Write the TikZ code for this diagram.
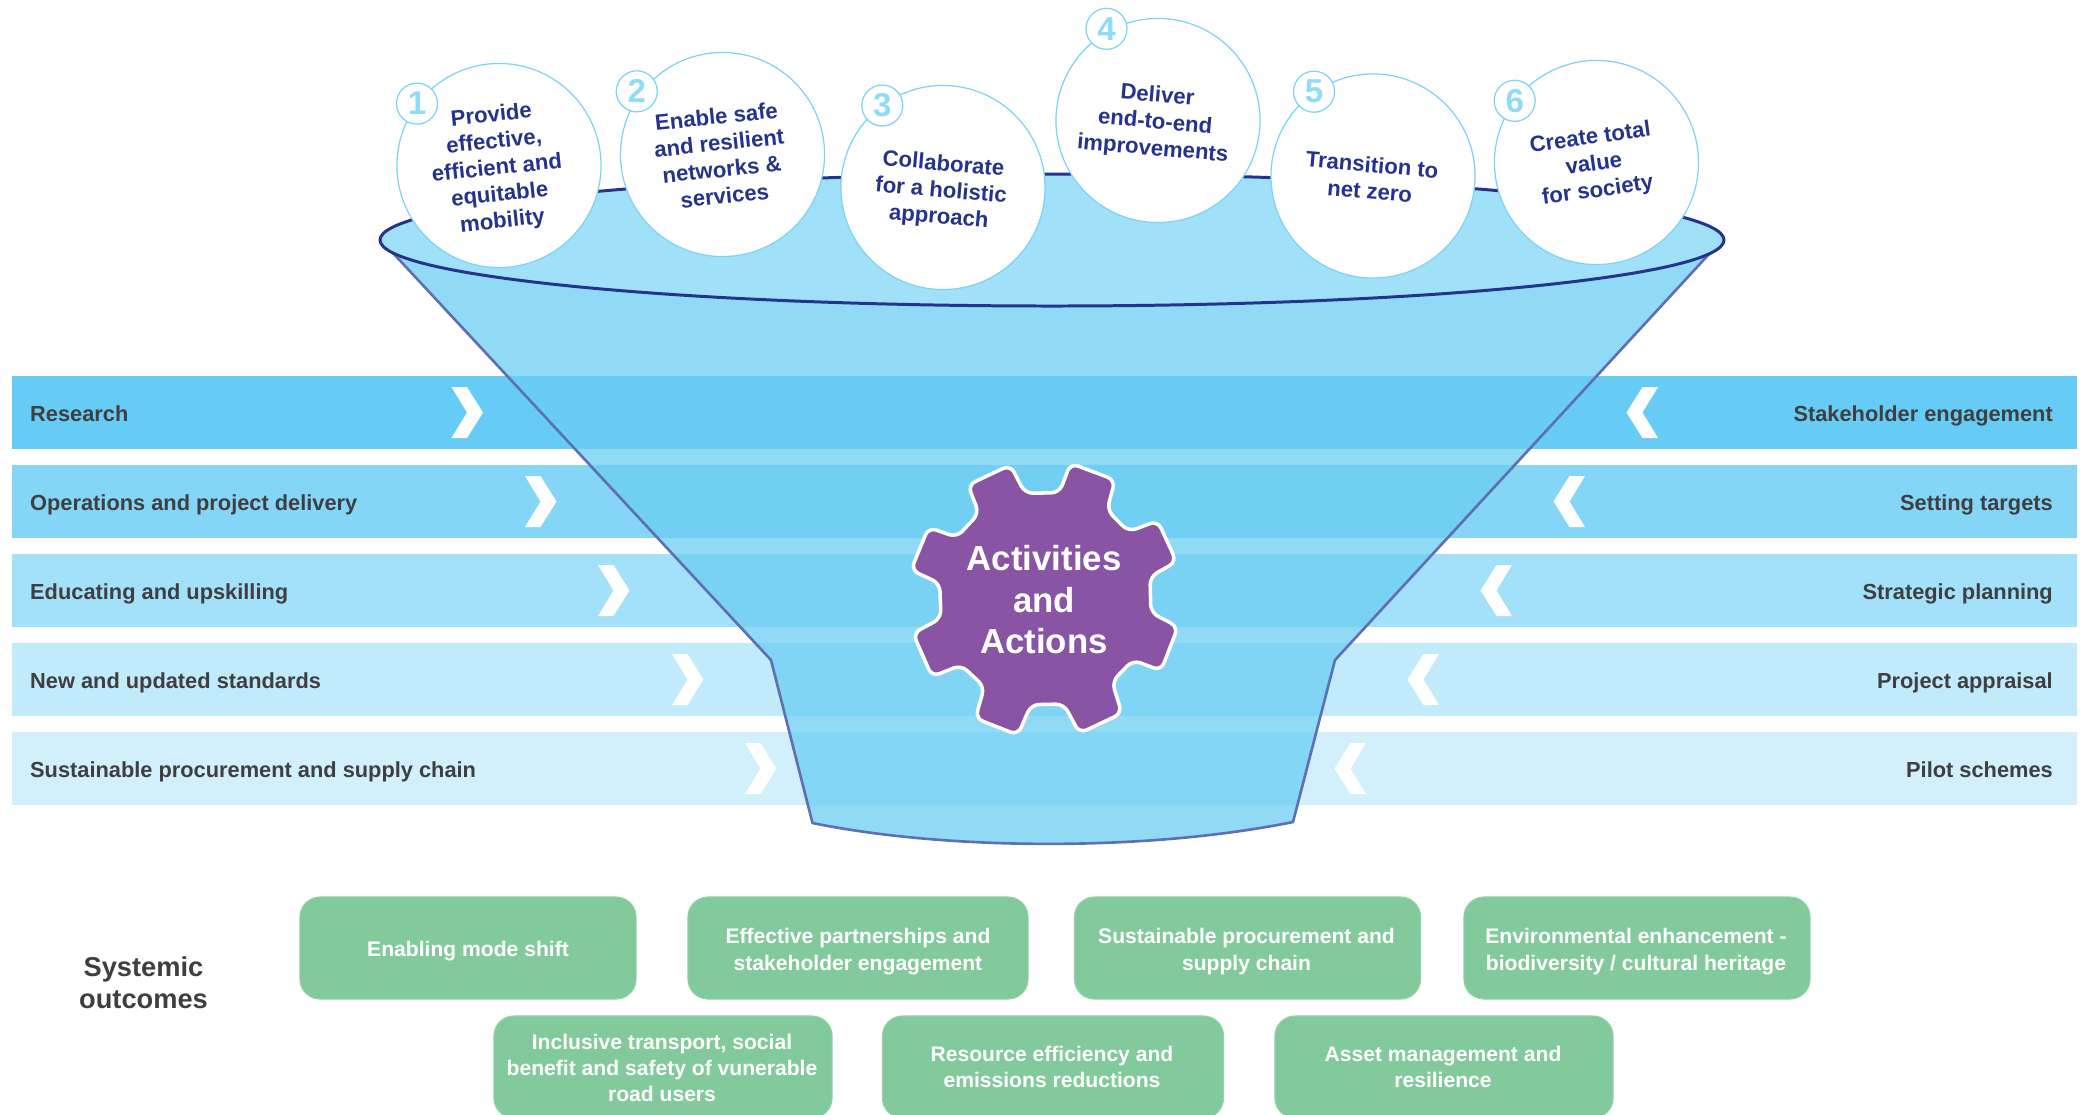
\documentclass[tikz,border=0pt]{standalone}
\usepackage{fontspec}
\setmainfont{Liberation Sans}
\usepackage{xcolor}
\definecolor{barone}{HTML}{66CCF5}
\definecolor{bartwo}{HTML}{84D5F6}
\definecolor{barthree}{HTML}{A3E0F9}
\definecolor{barfour}{HTML}{C1EAFB}
\definecolor{barfive}{HTML}{D1F0FB}
\definecolor{funnelblue}{HTML}{6BCEF3}
\definecolor{funneltop}{HTML}{A0E0F9}
\definecolor{funnelline}{HTML}{5F70B2}
\definecolor{rimnavy}{HTML}{24348C}
\definecolor{ringblue}{HTML}{7DD3F5}
\definecolor{numblue}{HTML}{8FDCF7}
\definecolor{gearpurple}{HTML}{8854A3}
\definecolor{boxgreen}{HTML}{82CA9C}
\definecolor{labelgrey}{HTML}{3F3F41}
\tikzset{
  barbox/.style={minimum width=20.63cm, minimum height=0.73cm, inner sep=0pt},
  barlabel/.style={text=labelgrey, inner sep=0pt, font=\fontsize{6.2}{7.5}\selectfont\bfseries},
  bubble/.style={circle, draw=ringblue, fill=white, line width=0.35pt, minimum size=2.04cm, inner sep=0pt},
  numring/.style={circle, draw=ringblue, fill=white, line width=0.35pt, minimum size=0.41cm, inner sep=0pt,
    text=numblue, font=\fontsize{9.4}{10}\selectfont\bfseries},
  bubbletext/.style={text=rimnavy, align=center, inner sep=0pt, font=\fontsize{6.3}{7.57}\selectfont\bfseries},
  outcomebox/.style={fill=boxgreen, draw=boxgreen!85!white, line width=0.3pt, rounded corners=0.2cm,
    minimum height=1.02cm, inner sep=0pt},
  outcometext/.style={align=center, text=white, inner sep=0pt, font=\fontsize{6}{7.48}\selectfont\bfseries},
}
\begin{document}
\begin{tikzpicture}[x=0.01cm, y=-0.01cm]

  \clip (0, 0) rectangle (2087, 1114);

  \node[barbox, fill=barone] (barresearch) at (1044.5, 412.5) {};
  \node[barbox, fill=bartwo] (baroperations) at (1044.5, 501.5) {};
  \node[barbox, fill=barthree] (bareducating) at (1044.5, 590.5) {};
  \node[barbox, fill=barfour] (barstandards) at (1044.5, 679.5) {};
  \node[barbox, fill=barfive] (barprocurement) at (1044.5, 768.5) {};

  \node[barlabel, anchor=base west] (research) at (29.5, 421.5) {Research};
  \node[barlabel, anchor=base west] (operations) at (29.5, 510.5) {Operations and project delivery};
  \node[barlabel, anchor=base west] (educating) at (29.5, 599.5) {Educating and upskilling};
  \node[barlabel, anchor=base west] (standards) at (29.5, 688.5) {New and updated standards};
  \node[barlabel, anchor=base west] (procurement) at (29.5, 777.5) {Sustainable procurement and supply chain};

  \node[barlabel, anchor=base east] (stakeholder) at (2053.5, 421.5) {Stakeholder engagement};
  \node[barlabel, anchor=base east] (targets) at (2053.5, 510.5) {Setting targets};
  \node[barlabel, anchor=base east] (planning) at (2053.5, 599.5) {Strategic planning};
  \node[barlabel, anchor=base east] (appraisal) at (2053.5, 688.5) {Project appraisal};
  \node[barlabel, anchor=base east] (pilot) at (2053.5, 777.5) {Pilot schemes};

  \fill[white, shift={(451.5, 412.5)}]
    (0, -25.5) -- (15.5, -25.5) -- (31.5, 0) -- (15.5, 25.5) -- (0, 25.5) -- (15.5, 0) -- cycle;
  \fill[white, shift={(525, 501.5)}]
    (0, -25.5) -- (15.5, -25.5) -- (31.5, 0) -- (15.5, 25.5) -- (0, 25.5) -- (15.5, 0) -- cycle;
  \fill[white, shift={(598, 590.5)}]
    (0, -25.5) -- (15.5, -25.5) -- (31.5, 0) -- (15.5, 25.5) -- (0, 25.5) -- (15.5, 0) -- cycle;
  \fill[white, shift={(672, 679.5)}]
    (0, -25.5) -- (15.5, -25.5) -- (31.5, 0) -- (15.5, 25.5) -- (0, 25.5) -- (15.5, 0) -- cycle;
  \fill[white, shift={(745, 768.5)}]
    (0, -25.5) -- (15.5, -25.5) -- (31.5, 0) -- (15.5, 25.5) -- (0, 25.5) -- (15.5, 0) -- cycle;

  \fill[white, shift={(1658, 412.5)}, xscale=-1]
    (0, -25.5) -- (15.5, -25.5) -- (31.5, 0) -- (15.5, 25.5) -- (0, 25.5) -- (15.5, 0) -- cycle;
  \fill[white, shift={(1585, 501.5)}, xscale=-1]
    (0, -25.5) -- (15.5, -25.5) -- (31.5, 0) -- (15.5, 25.5) -- (0, 25.5) -- (15.5, 0) -- cycle;
  \fill[white, shift={(1512, 590.5)}, xscale=-1]
    (0, -25.5) -- (15.5, -25.5) -- (31.5, 0) -- (15.5, 25.5) -- (0, 25.5) -- (15.5, 0) -- cycle;
  \fill[white, shift={(1439, 679.5)}, xscale=-1]
    (0, -25.5) -- (15.5, -25.5) -- (31.5, 0) -- (15.5, 25.5) -- (0, 25.5) -- (15.5, 0) -- cycle;
  \fill[white, shift={(1366, 768.5)}, xscale=-1]
    (0, -25.5) -- (15.5, -25.5) -- (31.5, 0) -- (15.5, 25.5) -- (0, 25.5) -- (15.5, 0) -- cycle;

  \filldraw[draw=funnelline, line width=0.75pt, line join=round, fill=funnelblue, fill opacity=0.75]
    (393, 253) -- (771, 660) -- (812.5, 823)
    .. controls (950, 851) and (1150, 851) .. (1293, 822)
    -- (1335, 660) -- (1710, 253) -- cycle;

  \draw[draw=rimnavy, line width=0.85pt, fill=funneltop] (1052, 240) ellipse [x radius=672, y radius=66];

  \node[bubble] (provide) at (499, 165.5) {};
  \node[bubble] (enable) at (722.5, 154.5) {};
  \node[bubble] (collaborate) at (943, 187.5) {};
  \node[bubble] (deliver) at (1158, 120.5) {};
  \node[bubble] (transition) at (1373, 176) {};
  \node[bubble] (create) at (1596.5, 162.5) {};

  \node[bubbletext, rotate=6] (providetext) at (497, 169)
    {Provide\\effective,\\efficient and\\equitable\\mobility};
  \node[bubbletext, rotate=6] (enabletext) at (720.5, 156)
    {Enable safe\\and resilient\\networks \&\\services};
  \node[bubbletext, rotate=-5] (collaboratetext) at (941, 191.5)
    {Collaborate\\for a holistic\\approach};
  \node[bubbletext, rotate=-5] (delivertext) at (1155, 123)
    {Deliver\\end-to-end\\improvements};
  \node[bubbletext, rotate=-5] (transitiontext) at (1371, 178)
    {Transition to\\net zero};
  \node[bubbletext, rotate=8] (createtext) at (1594, 165)
    {Create total\\value\\for society};

  \node[numring] (numone) at (417, 103.6) {1};
  \node[numring] (numtwo) at (636.8, 91.3) {2};
  \node[numring] (numthree) at (882.3, 105.5) {3};
  \node[numring] (numfour) at (1106.5, 28.8) {4};
  \node[numring] (numfive) at (1314, 91.7) {5};
  \node[numring] (numsix) at (1514.7, 100.8) {6};

  \draw[draw=white, line width=1pt, fill=gearpurple, rounded corners=0.08cm]
    (1025, 493.3) -- (1059.4, 492.7) -- (1070.5, 463.3) -- (1115.2, 480)
    -- (1107, 510) -- (1128.6, 531.7) -- (1157.6, 520.7) -- (1176.5, 561.7)
    -- (1150, 576.7) -- (1150.9, 612.7) -- (1178, 626.7) -- (1161, 670.7)
    -- (1133, 660) -- (1112, 681.7) -- (1121.9, 713.3) -- (1079.5, 733.3)
    -- (1063.8, 704) -- (1031, 704.7) -- (1017.9, 735) -- (975.4, 718.3)
    -- (984.4, 686.7) -- (961, 665) -- (932, 676.7) -- (913, 633.3)
    -- (941, 618.3) -- (939.7, 583.3) -- (911, 570) -- (928.6, 527.3)
    -- (956.7, 537.3) -- (979, 513.3) -- (967.9, 485) -- (1010.3, 465) -- cycle;

  \node[align=center, text=white, inner sep=0pt, font=\fontsize{9.9}{11.8}\selectfont\bfseries] (activities)
    at (1044, 600) {Activities\\and\\Actions};

  \node[align=center, text=labelgrey, inner sep=0pt, font=\fontsize{7.75}{9.1}\selectfont\bfseries] (systemic)
    at (143.5, 983) {Systemic\\outcomes};

  \node[outcomebox, minimum width=3.36cm] (modeshiftbox) at (468, 948) {};
  \node[outcomebox, minimum width=3.4cm] (partnershipsbox) at (858, 948) {};
  \node[outcomebox, minimum width=3.46cm] (supplychainbox) at (1247.5, 948) {};
  \node[outcomebox, minimum width=3.46cm] (environmentbox) at (1637, 948) {};
  \node[outcomebox, minimum width=3.38cm] (inclusivebox) at (663, 1067) {};
  \node[outcomebox, minimum width=3.41cm] (efficiencybox) at (1053, 1067) {};
  \node[outcomebox, minimum width=3.38cm] (assetsbox) at (1444, 1067) {};

  \node[outcometext] (modeshift) at (468, 951.5) {Enabling mode shift};
  \node[outcometext] (partnerships) at (858, 951.5) {Effective partnerships and\\stakeholder engagement};
  \node[outcometext] (supplychain) at (1246.5, 951.5) {Sustainable procurement and\\supply chain};
  \node[outcometext] (environment) at (1636, 951.5) {Environmental enhancement -\\biodiversity / cultural heritage};
  \node[outcometext] (inclusive) at (662, 1068) {Inclusive transport, social\\benefit and safety of vunerable\\road users};
  \node[outcometext] (efficiency) at (1052, 1067) {Resource efficiency and\\emissions reductions};
  \node[outcometext] (assets) at (1443, 1067) {Asset management and\\resilience};

\end{tikzpicture}
\end{document}
